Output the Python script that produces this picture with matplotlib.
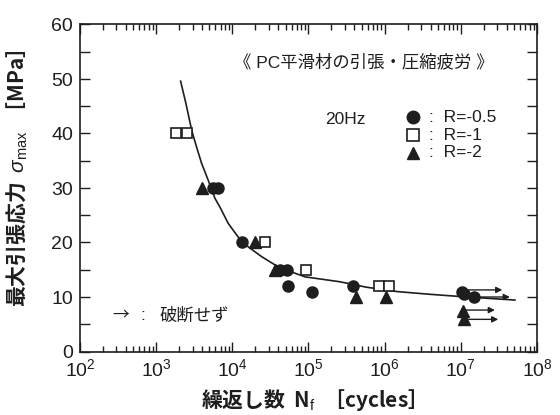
import matplotlib
matplotlib.use('Agg')
import matplotlib.pyplot as plt
from matplotlib.ticker import LogLocator, MultipleLocator, NullFormatter

plt.rcParams['font.family'] = ['Liberation Sans', 'Noto Sans CJK JP', 'DejaVu Sans']
plt.rcParams['mathtext.fontset'] = 'custom'
plt.rcParams['mathtext.rm'] = 'Liberation Sans'
plt.rcParams['mathtext.it'] = 'Liberation Sans:italic'

# data
# R = -0.5 (filled circles)
n_r05 = [5600, 6500, 13200, 42000, 52000, 54000, 110000, 380000, 1.05e7, 1.1e7, 1.5e7]
s_r05 = [30, 30, 20, 15, 15, 12, 11, 12, 11, 10.5, 10]
# R = -1 (open squares)
n_r1 = [1820, 2510, 26900, 94000, 850000, 1.15e6]
s_r1 = [40, 40, 20, 15, 12, 12]
# R = -2 (filled triangles)
n_r2 = [3970, 19800, 36000, 420000, 1.05e6, 1.07e7, 1.1e7]
s_r2 = [30, 20, 15, 10, 10, 7.5, 6]

# run-outs (not broken)
runout_start = [1.15e7, 1.5e7, 1.1e7, 1.15e7]
runout_end = [3.5e7, 4.4e7, 2.8e7, 3.1e7]
runout_s = [11.3, 10.0, 7.6, 5.9]

# fitted S-N curve
curve_n = [2094, 2460, 2924, 3396, 3954, 4831, 5916, 6871, 8831, 11940,
           16180, 24270, 36220, 59980, 89740, 257000, 575000, 1.45e6,
           3.89e6, 1.07e7, 5.13e7]
curve_s = [49.6, 45.5, 40.6, 37.5, 34.5, 31.4, 28.1, 26.5, 23.5, 21.0,
           19.2, 17.4, 15.9, 14.6, 13.7, 12.8, 11.8, 11.0,
           10.5, 10.05, 9.44]

ink = '#1e1e1e'
jp = 'Noto Sans CJK JP'

fig = plt.figure(figsize=(5.6, 4.15), dpi=100)
ax = fig.add_axes([80 / 560, 63.5 / 415, 457 / 560, 327 / 415])

ax.plot(curve_n, curve_s, color=ink, lw=1.2)
ax.plot(n_r05, s_r05, 'o', color=ink, ms=8, mec=ink)
ax.plot(n_r1, s_r1, 's', mfc='white', mec=ink, mew=1.2, ms=7.5)
ax.plot(n_r2, s_r2, '^', color=ink, ms=8.5)

for a, b, s in zip(runout_start, runout_end, runout_s):
    ax.annotate('', xy=(b, s), xytext=(a, s),
                arrowprops=dict(arrowstyle='-|>', color=ink, lw=1.0,
                                mutation_scale=9, shrinkA=0, shrinkB=0))

ax.set_xscale('log')
ax.set_xlim(1e2, 1e8)
ax.set_ylim(0, 60)
ax.yaxis.set_major_locator(MultipleLocator(10))
ax.yaxis.set_minor_locator(MultipleLocator(5))
ax.xaxis.set_major_locator(LogLocator(base=10, numticks=10))
ax.xaxis.set_minor_locator(LogLocator(base=10, subs=range(2, 10), numticks=20))
ax.xaxis.set_minor_formatter(NullFormatter())

ax.tick_params(which='both', direction='in', top=True, right=True,
               labelsize=14, colors=ink, pad=5)
ax.tick_params(which='major', length=7, width=1.0)
ax.tick_params(which='minor', length=4, width=1.0)
ax.tick_params(axis='y', which='minor', length=7)
for sp in ax.spines.values():
    sp.set_linewidth(1.2)
    sp.set_color(ink)

# mathtext takes one family only, so the labels use the CJK font directly
ax.set_xlabel('繰返し数  N$_{\\rm f}$  ［cycles］', fontsize=15,
              fontweight='bold', color=ink, family=jp)
ax.set_ylabel('最大引張応力  $\\sigma_{\\rm max}$  ［MPa］', fontsize=15,
              fontweight='bold', color=ink, family=jp)
ax.xaxis.set_label_coords(0.5, -0.11)
ax.yaxis.set_label_coords(-0.11, 0.53)

ax.text(0.62, 0.887, '《 PC平滑材の引張・圧縮疲労 》', transform=ax.transAxes,
        ha='center', va='center', fontsize=12.5, color=ink)
ax.text(0.58, 0.71, '20Hz', transform=ax.transAxes, ha='center',
        va='center', fontsize=12.5, color=ink)

# legend drawn by hand
leg_y = [0.716, 0.661, 0.608]
leg_marks = [dict(marker='o', color=ink, ms=9),
             dict(marker='s', mfc='white', mec=ink, mew=1.2, ms=8),
             dict(marker='^', color=ink, ms=9)]
leg_text = [':  R=-0.5', ':  R=-1', ':  R=-2']
for y, mk, t in zip(leg_y, leg_marks, leg_text):
    ax.plot([0.729], [y], transform=ax.transAxes, ls='none', clip_on=False, **mk)
    ax.text(0.763, y, t, transform=ax.transAxes, ha='left', va='center',
            fontsize=12.5, color=ink)

ax.text(0.07, 0.11, '→', transform=ax.transAxes, ha='left', va='center',
        fontsize=12, color=ink, family=jp)
ax.text(0.133, 0.11, ':', transform=ax.transAxes, ha='left', va='center',
        fontsize=12.5, color=ink)
ax.text(0.175, 0.11, '破断せず', transform=ax.transAxes, ha='left',
        va='center', fontsize=12.5, color=ink)

fig.savefig('out.png', dpi=100)
